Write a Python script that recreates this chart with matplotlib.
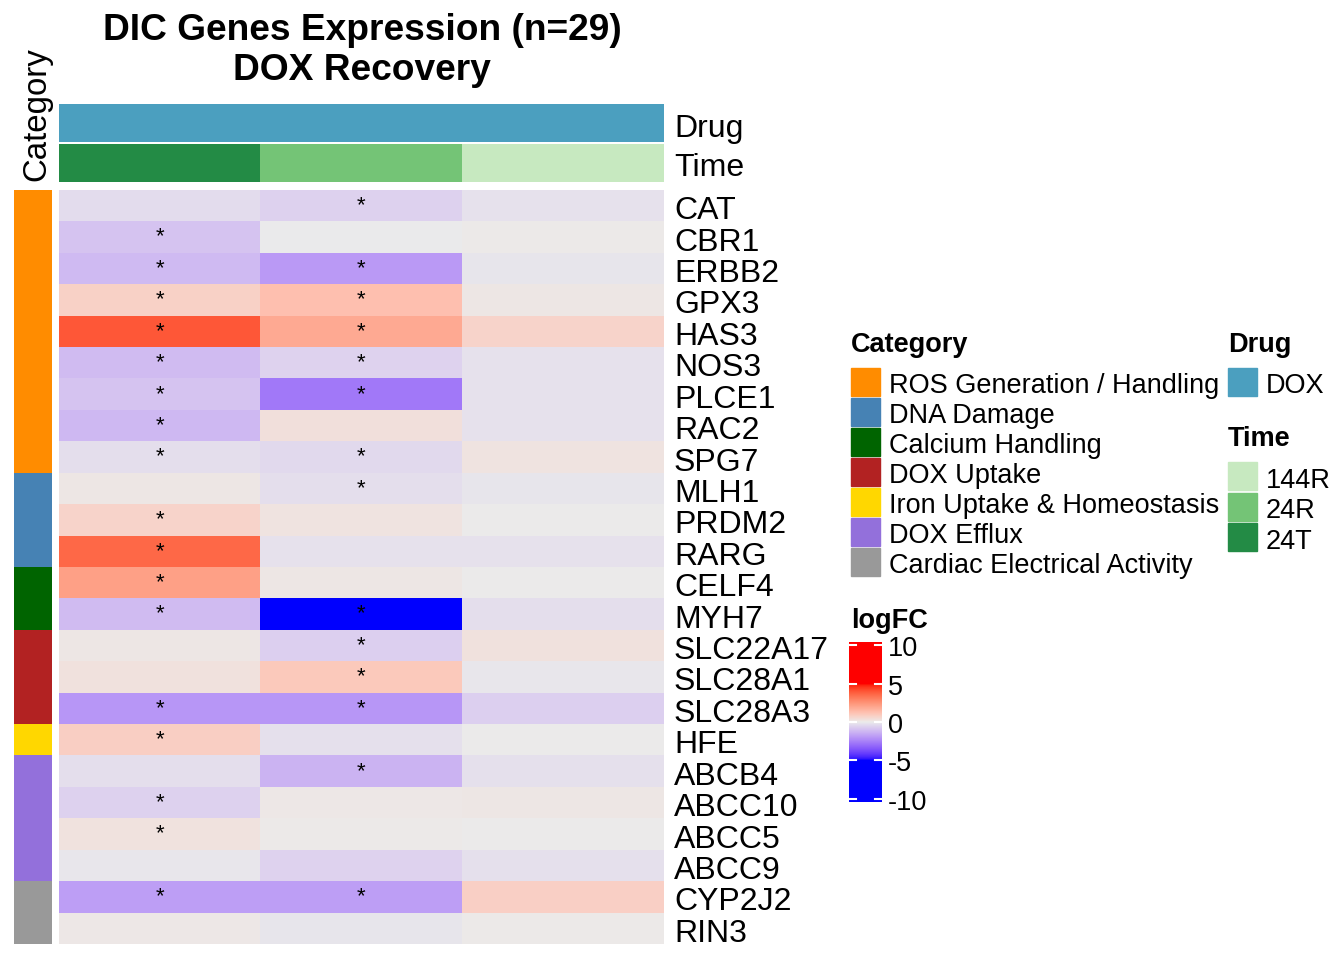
import numpy as np
import matplotlib
matplotlib.use("Agg")
import matplotlib.pyplot as plt
from matplotlib.colors import ListedColormap, Normalize

plt.rcParams['font.family'] = ['Liberation Sans', 'DejaVu Sans']

genes = ["CAT", "CBR1", "ERBB2", "GPX3", "HAS3", "NOS3", "PLCE1", "RAC2", "SPG7",
         "MLH1", "PRDM2", "RARG", "CELF4", "MYH7", "SLC22A17", "SLC28A1", "SLC28A3",
         "HFE", "ABCB4", "ABCC10", "ABCC5", "ABCC9", "CYP2J2", "RIN3"]
gene_category = ["ROS Generation / Handling"] * 9 + ["DNA Damage"] * 3 + \
                ["Calcium Handling"] * 2 + ["DOX Uptake"] * 3 + \
                ["Iron Uptake & Homeostasis"] + ["DOX Efflux"] * 4 + \
                ["Cardiac Electrical Activity"] * 2
times = ["24T", "24R", "144R"]

# logFC per gene: 24T, 24R, 144R
logfc_24T = [-0.33, -0.9, -1.15, 0.75, 3.95, -1.1, -0.9, -1.2, -0.3,
             0.15, 0.7, 3.6, 2.15, -1.1, 0.15, 0.3, -2.0,
             0.85, -0.3, -0.6, 0.25, -0.1, -1.8, 0.1]
logfc_24R = [-0.6, -0.03, -1.95, 1.25, 1.9, -0.55, -2.7, 0.33, -0.4,
             -0.3, 0.2, -0.2, 0.15, -6.0, -0.65, 1.0, -2.0,
             -0.25, -1.3, 0.1, 0.05, -0.55, -1.8, -0.15]
logfc_144R = [-0.2, 0.05, -0.12, 0.12, 0.7, -0.2, -0.22, -0.2, 0.2,
              -0.12, 0.02, -0.2, 0.0, -0.3, 0.3, -0.1, -0.65,
              0.02, -0.25, 0.15, 0.02, -0.25, 0.8, 0.05]

# significance (1 = asterisk)
sig_24T = [0, 1, 1, 1, 1, 1, 1, 1, 1, 0, 1, 1, 1, 1, 0, 0, 1, 1, 0, 1, 1, 0, 1, 0]
sig_24R = [1, 0, 1, 1, 1, 1, 1, 0, 1, 1, 0, 0, 0, 1, 1, 1, 1, 0, 1, 0, 0, 0, 1, 0]
sig_144R = [0] * 24

categories = ["ROS Generation / Handling", "DNA Damage", "Calcium Handling", "DOX Uptake",
              "Iron Uptake & Homeostasis", "DOX Efflux", "Cardiac Electrical Activity"]
category_colors = ["#FF8C00", "#4682B4", "#006400", "#B22222", "#FFD700", "#9370DB", "#999999"]
time_colors = {"144R": "#C7E9C0", "24R": "#74C476", "24T": "#238B45"}
drug_color = "#4B9FBF"
cbar_ticks = [10, 5, 0, -5, -10]

W, H = 1344, 960

# colour ramp interpolated in LAB space (blue - grey - red)
M = np.array([[0.4124, 0.3576, 0.1805], [0.2126, 0.7152, 0.0722], [0.0193, 0.1192, 0.9505]])
WP = np.array([0.95047, 1.0, 1.08883])


def to_lab(hexcol):
    rgb = np.array(matplotlib.colors.to_rgb(hexcol))
    lin = np.where(rgb <= 0.04045, rgb / 12.92, ((rgb + 0.055) / 1.055) ** 2.4)
    xyz = M @ lin / WP
    f = np.where(xyz > 0.008856, np.cbrt(xyz), 7.787 * xyz + 16 / 116)
    return np.array([116 * f[1] - 16, 500 * (f[0] - f[1]), 200 * (f[1] - f[2])])


def from_lab(lab):
    fy = (lab[0] + 16) / 116
    f = np.array([fy + lab[1] / 500, fy, fy - lab[2] / 200])
    xyz = np.where(f ** 3 > 0.008856, f ** 3, (f - 16 / 116) / 7.787) * WP
    lin = np.clip(np.linalg.solve(M, xyz), 0, 1)
    return np.clip(np.where(lin <= 0.0031308, 12.92 * lin, 1.055 * lin ** (1 / 2.4) - 0.055), 0, 1)


lab_blue, lab_mid, lab_red = to_lab("#0000FF"), to_lab("#EBEBEB"), to_lab("#FF0000")
ramp = []
for v in np.linspace(-5, 5, 256):
    if v < 0:
        t = -v / 5
        ramp.append(from_lab(lab_mid + t * (lab_blue - lab_mid)))
    else:
        t = v / 5
        ramp.append(from_lab(lab_mid + t * (lab_red - lab_mid)))
cmap = ListedColormap(ramp)
norm = Normalize(-5, 5)


def px_axes(x0, y0, x1, y1):
    a = fig.add_axes([x0 / W, 1 - y1 / H, (x1 - x0) / W, (y1 - y0) / H])
    a.set_axis_off()
    return a


def ftext(x, y, s, **kw):
    fig.text(x / W, 1 - y / H, s, **kw)


fig = plt.figure(figsize=(W / 100, H / 100), dpi=100)

values = np.array([logfc_24T, logfc_24R, logfc_144R]).T
sig = np.array([sig_24T, sig_24R, sig_144R]).T
n = len(genes)

# heatmap body
top, bottom = 190, 944
ax = px_axes(59, top, 664, bottom)
ax.imshow(values, cmap=cmap, norm=norm, aspect='auto', interpolation='nearest')
ax.set_xlim(-0.5, 2.5)
ax.set_ylim(n - 0.5, -0.5)
for i in range(n):
    for j in range(3):
        if sig[i, j]:
            ax.text(j, i + 0.0, "*", ha='center', va='center', fontsize=16)

row_h = (bottom - top) / n
for i, g in enumerate(genes):
    ftext(674, top + (i + 0.5) * row_h + 2, g, fontsize=23, va='center_baseline', ha='left')

# column annotations
ax_drug = px_axes(59, 104, 664, 142)
ax_drug.imshow([[0]], cmap=ListedColormap([drug_color]), aspect='auto')
ax_time = px_axes(59, 144, 664, 182)
ax_time.imshow(np.arange(3)[None, :], cmap=ListedColormap([time_colors[t] for t in times]),
               aspect='auto', interpolation='nearest')
ftext(674, 125, "Drug", fontsize=23, va='center_baseline')
ftext(674, 165, "Time", fontsize=23, va='center_baseline')

# row annotation
cat_idx = [categories.index(c) for c in gene_category]
ax_cat = px_axes(14, top, 52, bottom)
ax_cat.imshow(np.array(cat_idx)[:, None], cmap=ListedColormap(category_colors), aspect='auto',
              interpolation='nearest', vmin=-0.5, vmax=len(categories) - 0.5)
ftext(37, 181, "Category", fontsize=23.8, rotation=90, ha='center', va='bottom')

# title
ftext(362, 31, "DIC Genes Expression (n=29)", fontsize=26.7, fontweight='bold', ha='center', va='center')
ftext(362, 71, "DOX Recovery", fontsize=26.7, fontweight='bold', ha='center', va='center')

# legends
ftext(851, 345, "Category", fontsize=19.5, fontweight='bold', va='center')
for k, (c, col) in enumerate(zip(categories, category_colors)):
    y0 = 368 + 30 * k
    fig.patches.append(plt.Rectangle((851 / W, 1 - (y0 + 28) / H), 29 / W, 28 / H,
                                     color=col, transform=fig.transFigure))
    ftext(889, y0 + 15, c, fontsize=19.5, va='center_baseline')

ftext(1228, 345, "Drug", fontsize=19.5, fontweight='bold', va='center')
fig.patches.append(plt.Rectangle((1228 / W, 1 - 396 / H), 29 / W, 28 / H,
                                 color=drug_color, transform=fig.transFigure))
ftext(1266, 383, "DOX", fontsize=19.5, va='center_baseline')

ftext(1228, 439, "Time", fontsize=19.5, fontweight='bold', va='center')
for k, t in enumerate(["144R", "24R", "24T"]):
    y0 = 462 + 30.5 * k
    fig.patches.append(plt.Rectangle((1228 / W, 1 - (y0 + 28) / H), 29 / W, 28 / H,
                                     color=time_colors[t], transform=fig.transFigure))
    ftext(1266, y0 + 16, t, fontsize=19.5, va='center_baseline')

# logFC colour bar
ftext(851, 621, "logFC", fontsize=19.5, fontweight='bold', va='center')
ax_cb = px_axes(849, 642, 882, 802)
grad = np.linspace(10.4, -10.4, 300)[:, None]
ax_cb.imshow(grad, cmap=cmap, norm=norm, aspect='auto', extent=(0, 1, -10.4, 10.4))
ax_cb.set_xlim(0, 1)
ax_cb.set_ylim(-10.4, 10.4)
for tv in cbar_ticks:
    ax_cb.plot([0.02, 0.2], [tv, tv], color='white', lw=1.5)
    ax_cb.plot([0.8, 0.98], [tv, tv], color='white', lw=1.5)
    ftext(888, 642 + (10.4 - tv) / 20.8 * 160 + 1, str(tv), fontsize=19.5, va='center_baseline')

fig.savefig("out.png", dpi=100)
